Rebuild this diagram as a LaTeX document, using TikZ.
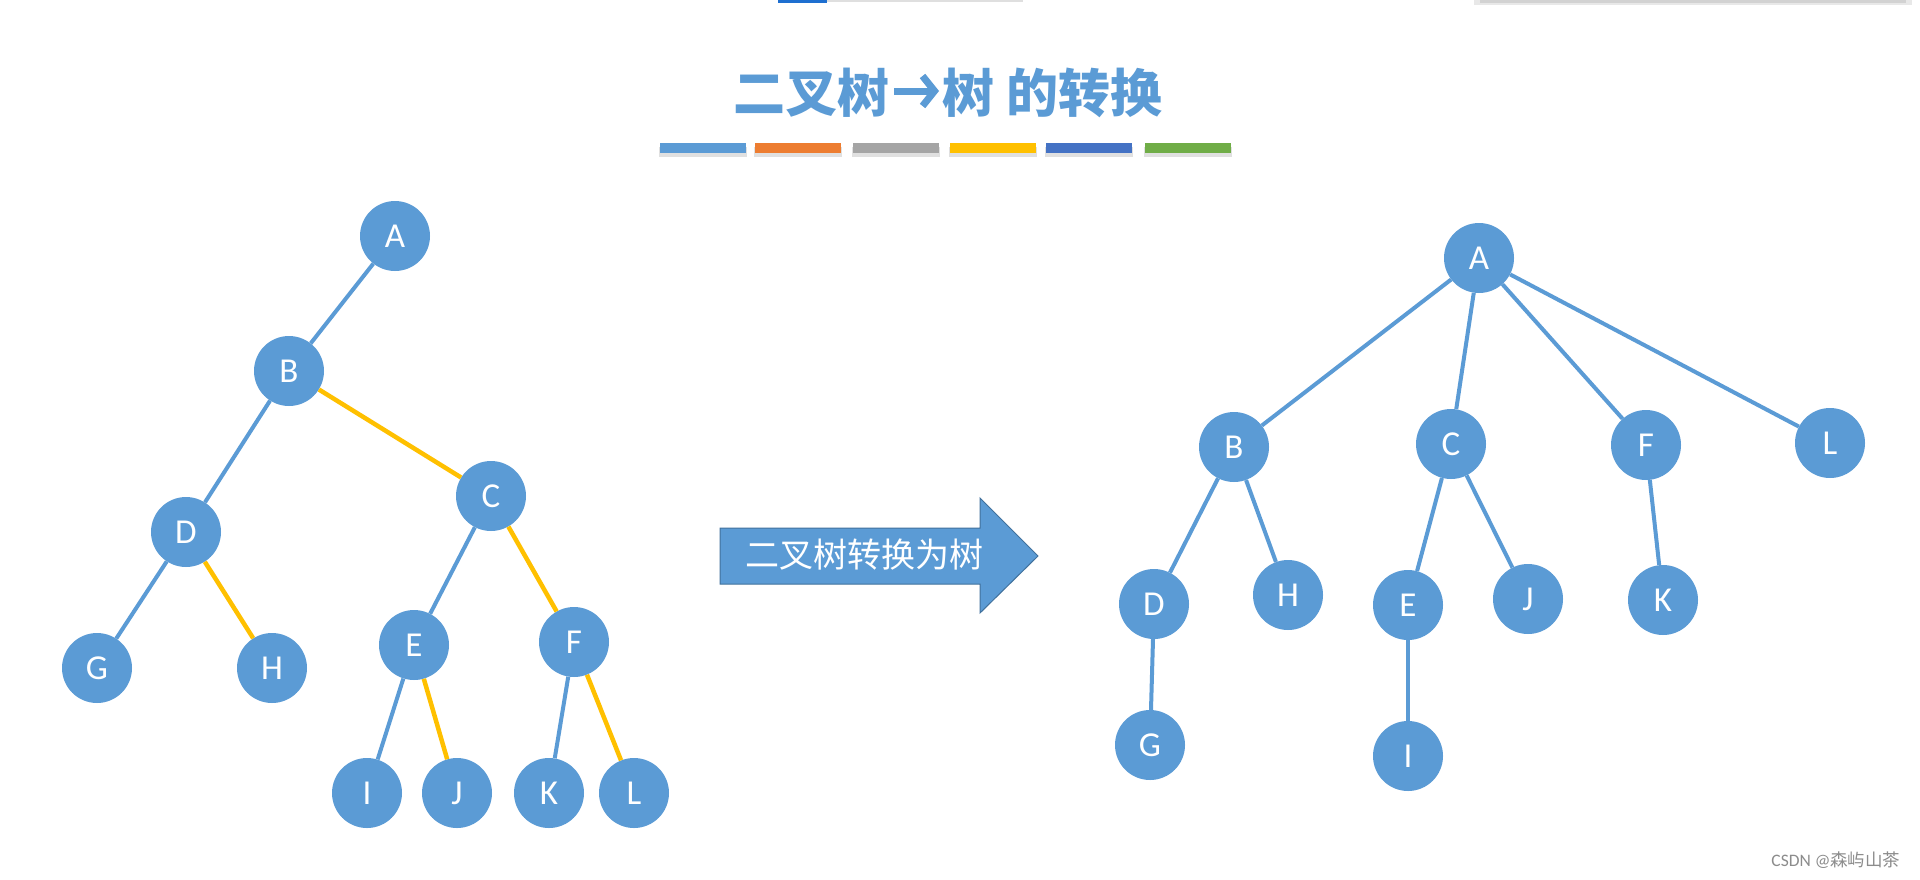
\documentclass[tikz,border=0pt]{standalone}
\usepackage{fontspec}
\setmainfont{Carlito}
\newfontfamily\cjk{Noto Sans CJK SC}
\usetikzlibrary{arrows.meta}
\definecolor{nodeblue}{HTML}{5B9BD5}
\definecolor{edgeyellow}{HTML}{FFC000}
\definecolor{barorange}{HTML}{ED7D31}
\definecolor{bargray}{HTML}{A5A5A5}
\definecolor{bardblue}{HTML}{4472C4}
\definecolor{bargreen}{HTML}{70AD47}
\definecolor{arrowborder}{HTML}{41719C}
\definecolor{credit}{HTML}{8C8C8C}
\definecolor{tabblue}{HTML}{1E6FD0}
\tikzset{
  tnode/.style={circle, fill=nodeblue, minimum size=70pt, inner sep=0pt, text=white, font=\fontsize{35}{35}\selectfont},
  bedge/.style={draw=nodeblue, line width=4pt},
  yedge/.style={draw=edgeyellow, line width=4.5pt},
  titletext/.style={inner sep=0pt, text=nodeblue, font=\fontsize{52}{52}\selectfont\cjk\bfseries},
  bar/.style={minimum width=86pt, minimum height=10pt, inner sep=0pt},
  barshadow/.style={fill=black, opacity=0.12, minimum width=88pt, minimum height=10pt, inner sep=0pt}
}
\begin{document}
\begin{tikzpicture}[x=1pt,y=-1pt]
\useasboundingbox (0,0) rectangle (1920,879);
\fill[white] (0,0) rectangle (1920,879);
% screenshot artifacts at top
\fill[tabblue] (778,0) rectangle (827,2.5);
\fill[gray!25] (827,0) rectangle (1023,1.5);
\fill[gray!18] (1474,0) rectangle (1912,5);
\fill[gray!35] (1480,0) rectangle (1906,3);

% title
\node[titletext, anchor=east] (title1) at (890,93) {二叉树};
\node[titletext, anchor=west] (title2) at (942,93) {树 的转换};
\draw[nodeblue, line width=7pt, -{Straight Barb[length=12pt, width=30pt, line width=7pt]}]
  ([xshift=4pt, yshift=2pt]title1.east) -- ([xshift=-3pt, yshift=2pt]title2.west);

% colour bars
\foreach \cx/\col [count=\i] in {703/nodeblue,798/barorange,896/bargray,993/edgeyellow,1089/bardblue,1188/bargreen}{
  \node[barshadow] (sh\i) at (\cx,152) {};
  \node[bar, fill=\col] (bar\i) at (\cx,148) {};
}

% left binary tree
\node[tnode] (lA) at (395,236) {A};
\node[tnode] (lB) at (289,371) {B};
\node[tnode] (lC) at (491,496) {C};
\node[tnode] (lD) at (186,532) {D};
\node[tnode] (lE) at (414,645) {E};
\node[tnode] (lF) at (574,642) {F};
\node[tnode] (lG) at (97,668) {G};
\node[tnode] (lH) at (272,668) {H};
\node[tnode] (lI) at (367,793) {I};
\node[tnode] (lJ) at (457,793) {J};
\node[tnode] (lK) at (549,793) {K};
\node[tnode] (lL) at (634,793) {L};
\draw[bedge] (lA) -- (lB);
\draw[yedge] (lB) -- (lC);
\draw[bedge] (lB) -- (lD);
\draw[bedge] (lD) -- (lG);
\draw[yedge] (lD) -- (lH);
\draw[bedge] (lC) -- (lE);
\draw[yedge] (lC) -- (lF);
\draw[bedge] (lE) -- (lI);
\draw[yedge] (lE) -- (lJ);
\draw[bedge] (lF) -- (lK);
\draw[yedge] (lF) -- (lL);

% big arrow
\fill[nodeblue, draw=arrowborder, line width=1pt] (720,528) -- (980,528) -- (980,498) -- (1038,556) -- (980,613) -- (980,584) -- (720,584) -- cycle;
\node[text=white, font=\fontsize{34}{34}\selectfont\cjk] (arrowtext) at (864,555) {二叉树转换为树};

% right tree
\node[tnode] (rA) at (1479,258) {A};
\node[tnode] (rB) at (1234,447) {B};
\node[tnode] (rC) at (1451,444) {C};
\node[tnode] (rF) at (1646,445) {F};
\node[tnode] (rL) at (1830,443) {L};
\node[tnode] (rD) at (1154,604) {D};
\node[tnode] (rH) at (1288,595) {H};
\node[tnode] (rE) at (1408,605) {E};
\node[tnode] (rJ) at (1528,599) {J};
\node[tnode] (rK) at (1663,600) {K};
\node[tnode] (rG) at (1150,745) {G};
\node[tnode] (rI) at (1408,756) {I};
\draw[bedge] (rA) -- (rB);
\draw[bedge] (rA) -- (rC);
\draw[bedge] (rA) -- (rF);
\draw[bedge] (rA) -- (rL);
\draw[bedge] (rB) -- (rD);
\draw[bedge] (rB) -- (rH);
\draw[bedge] (rC) -- (rE);
\draw[bedge] (rC) -- (rJ);
\draw[bedge] (rF) -- (rK);
\draw[bedge] (rD) -- (rG);
\draw[bedge] (rE) -- (rI);

% credit
\node[anchor=east, text=credit, font=\fontsize{17.5}{17.5}\selectfont] (credit) at (1904,860) {CSDN @{\cjk 森屿山茶}};
\end{tikzpicture}
\end{document}
